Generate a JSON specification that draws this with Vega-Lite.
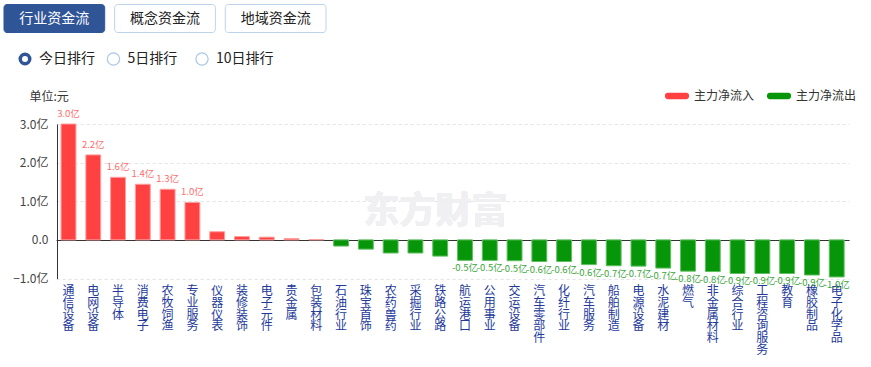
{
  "$schema": "https://vega.github.io/schema/vega-lite/v6.json",
  "width": 871,
  "height": 367,
  "autosize": "none",
  "padding": 0,
  "background": "white",
  "config": {"view": {"stroke": null}, "font": "Noto Sans CJK SC"},
  "layer": [
    {
      "data": {"values": [
        {"name": "通信设备", "value": 3.0, "label": "3.0亿", "dir": "主力净流入"},
        {"name": "电网设备", "value": 2.2, "label": "2.2亿", "dir": "主力净流入"},
        {"name": "半导体", "value": 1.62, "label": "1.6亿", "dir": "主力净流入"},
        {"name": "消费电子", "value": 1.44, "label": "1.4亿", "dir": "主力净流入"},
        {"name": "农牧饲渔", "value": 1.31, "label": "1.3亿", "dir": "主力净流入"},
        {"name": "专业服务", "value": 0.97, "label": "1.0亿", "dir": "主力净流入"},
        {"name": "仪器仪表", "value": 0.21, "label": "", "dir": "主力净流入"},
        {"name": "装修装饰", "value": 0.085, "label": "", "dir": "主力净流入"},
        {"name": "电子元件", "value": 0.07, "label": "", "dir": "主力净流入"},
        {"name": "贵金属", "value": 0.035, "label": "", "dir": "主力净流入"},
        {"name": "包装材料", "value": 0.008, "label": "", "dir": "主力净流入"},
        {"name": "石油行业", "value": -0.16, "label": "", "dir": "主力净流出"},
        {"name": "珠宝首饰", "value": -0.24, "label": "", "dir": "主力净流出"},
        {"name": "农药兽药", "value": -0.34, "label": "", "dir": "主力净流出"},
        {"name": "采掘行业", "value": -0.34, "label": "", "dir": "主力净流出"},
        {"name": "铁路公路", "value": -0.42, "label": "", "dir": "主力净流出"},
        {"name": "航运港口", "value": -0.53, "label": "-0.5亿", "dir": "主力净流出"},
        {"name": "公用事业", "value": -0.53, "label": "-0.5亿", "dir": "主力净流出"},
        {"name": "交运设备", "value": -0.54, "label": "-0.5亿", "dir": "主力净流出"},
        {"name": "汽车零部件", "value": -0.56, "label": "-0.6亿", "dir": "主力净流出"},
        {"name": "化纤行业", "value": -0.56, "label": "-0.6亿", "dir": "主力净流出"},
        {"name": "汽车服务", "value": -0.64, "label": "-0.6亿", "dir": "主力净流出"},
        {"name": "船舶制造", "value": -0.67, "label": "-0.7亿", "dir": "主力净流出"},
        {"name": "电源设备", "value": -0.68, "label": "-0.7亿", "dir": "主力净流出"},
        {"name": "水泥建材", "value": -0.73, "label": "-0.7亿", "dir": "主力净流出"},
        {"name": "燃气", "value": -0.81, "label": "-0.8亿", "dir": "主力净流出"},
        {"name": "非金属材料", "value": -0.82, "label": "-0.8亿", "dir": "主力净流出"},
        {"name": "综合行业", "value": -0.87, "label": "-0.9亿", "dir": "主力净流出"},
        {"name": "工程咨询服务", "value": -0.87, "label": "-0.9亿", "dir": "主力净流出"},
        {"name": "教育", "value": -0.87, "label": "-0.9亿", "dir": "主力净流出"},
        {"name": "橡胶制品", "value": -0.91, "label": "-0.9亿", "dir": "主力净流出"},
        {"name": "电子化学品", "value": -0.96, "label": "-1.0亿", "dir": "主力净流出"}
      ]},
      "encoding": {
        "x": {
          "field": "name", "type": "nominal", "sort": null,
          "scale": {"type": "band", "range": [56.1, 849.1], "paddingInner": 0.4, "paddingOuter": 0.2},
          "axis": {
            "title": null, "orient": "bottom", "offset": -88.5,
            "domain": false, "ticks": false, "tickSize": 0,
            "labelAngle": 0, "labelAlign": "center", "labelBaseline": "top",
            "labelPadding": 7, "labelFontSize": 12, "labelLineHeight": 11.8,
            "labelColor": "#23399a", "labelOverlap": false, "labelLimit": 0,
            "labelFont": "Noto Sans CJK SC",
            "labelExpr": "split(datum.label, '')"
          }
        },
        "y": {
          "field": "value", "type": "quantitative",
          "scale": {"domain": [-1, 3], "range": [278.5, 124], "nice": false},
          "axis": {
            "orient": "left", "offset": -57,
            "values": [-1, 0, 1, 2, 3],
            "title": "单位:元", "titleAngle": 0, "titleX": -28, "titleY": 96,
            "titleAlign": "left", "titleBaseline": "middle", "titleFontSize": 12,
            "titleFontWeight": "normal", "titleColor": "#333", "titleFont": "Noto Sans CJK SC",
            "domain": true, "domainColor": "#333", "domainWidth": 1,
            "ticks": false, "tickSize": 0, "labelPadding": 9,
            "labelFontSize": 12, "labelColor": "#444", "labelFont": "Noto Sans CJK SC",
            "labelExpr": "datum.value === 0 ? '0.0' : format(datum.value, '.1f') + '亿'",
            "grid": true,
            "gridColor": {"condition": {"test": "datum.value === 0", "value": "#333"}, "value": "#e3e3e3"},
            "gridDash": {"condition": {"test": "datum.value === 0", "value": []}, "value": [3, 3]},
            "gridWidth": 1
          }
        }
      },
      "layer": [
        {
          "mark": {"type": "bar", "strokeWidth": 1},
          "encoding": {
            "color": {
              "field": "dir", "type": "nominal",
              "scale": {"domain": ["主力净流入", "主力净流出"], "range": ["#ff4141", "#07950a"]},
              "legend": {
                "orient": "none", "legendX": 665, "legendY": 84, "direction": "horizontal",
                "title": null,
                "symbolType": "M-0.78,-0.27H0.78A0.22,0.22 0 0 1 1,-0.05V0.05A0.22,0.22 0 0 1 0.78,0.27H-0.78A0.22,0.22 0 0 1 -1,0.05V-0.05A0.22,0.22 0 0 1 -0.78,-0.27Z",
                "symbolSize": 576, "symbolStrokeWidth": 0, "symbolOpacity": 1,
                "labelFontSize": 12, "labelColor": "#333", "labelFont": "Noto Sans CJK SC",
                "labelOffset": 5, "columnPadding": 12, "padding": 0
              }
            },
            "stroke": {"condition": {"test": "datum.value > 0", "value": "#ff9d9d"}, "value": "#5fbf5f"}
          }
        },
        {
          "transform": [{"filter": "datum.value > 0 && datum.label != ''"}],
          "mark": {"type": "text", "fontSize": 9.5, "baseline": "middle", "dy": -10, "color": "#ff6b6b"},
          "encoding": {"text": {"field": "label"}}
        },
        {
          "transform": [{"filter": "datum.value < 0 && datum.label != ''"}],
          "mark": {"type": "text", "fontSize": 9.5, "baseline": "middle", "dy": 8, "color": "#3aa63a"},
          "encoding": {"text": {"field": "label"}}
        },
        {
          "mark": {"type": "text", "fontSize": 36, "fontWeight": "bold", "color": "#f0f0f2", "font": "Noto Sans CJK SC", "dx": 20},
          "encoding": {
            "x": {"datum": "采掘行业", "type": "nominal"},
            "y": {"datum": 0.72, "type": "quantitative"},
            "text": {"value": "东方财富"}
          }
        }
      ]
    },
    {
      "data": {"values": [
        {"tab": "行业资金流", "sel": 1},
        {"tab": "概念资金流", "sel": 0},
        {"tab": "地域资金流", "sel": 0}
      ]},
      "encoding": {
        "x": {"field": "tab", "type": "nominal", "sort": null, "axis": null,
              "scale": {"type": "band", "range": [4, 326], "paddingInner": 0.09, "paddingOuter": 0}},
        "y": {"datum": "tabs", "type": "nominal", "axis": null,
              "scale": {"type": "band", "range": [4.5, 32.5], "paddingInner": 0, "paddingOuter": 0}}
      },
      "layer": [
        {
          "mark": {"type": "rect", "cornerRadius": 3, "strokeWidth": 1},
          "encoding": {
            "fill": {"condition": {"test": "datum.sel == 1", "value": "#2f5597"}, "value": "#ffffff"},
            "stroke": {"condition": {"test": "datum.sel == 1", "value": "#2f5597"}, "value": "#bcd3ea"}
          }
        },
        {
          "mark": {"type": "text", "fontSize": 14, "baseline": "middle", "align": "center", "font": "Noto Sans CJK SC"},
          "encoding": {
            "text": {"field": "tab"},
            "color": {"condition": {"test": "datum.sel == 1", "value": "#ffffff"}, "value": "#222222"}
          }
        }
      ]
    },
    {
      "data": {"values": [
        {"r": "今日排行", "sel": 1},
        {"r": "5日排行", "sel": 0},
        {"r": "10日排行", "sel": 0}
      ]},
      "encoding": {
        "x": {"field": "r", "type": "nominal", "sort": null, "axis": null,
              "scale": {"type": "point", "range": [25, 202], "padding": 0}},
        "y": {"datum": "radio", "type": "nominal", "axis": null,
              "scale": {"type": "point", "range": [50, 68], "padding": 0.5}}
      },
      "layer": [
        {
          "mark": {"type": "point", "shape": "circle", "filled": false, "fill": "#ffffff", "opacity": 1},
          "encoding": {
            "size": {"condition": {"test": "datum.sel == 1", "value": 90}, "value": 150},
            "strokeWidth": {"condition": {"test": "datum.sel == 1", "value": 3.5}, "value": 1.2},
            "stroke": {"condition": {"test": "datum.sel == 1", "value": "#2f5597"}, "value": "#a9c6e4"}
          }
        },
        {
          "mark": {"type": "text", "fontSize": 14, "baseline": "middle", "align": "left", "dx": 14, "color": "#222222", "font": "Noto Sans CJK SC"},
          "encoding": {"text": {"field": "r"}}
        }
      ]
    }
  ],
  "resolve": {
    "scale": {"x": "independent", "y": "independent"},
    "axis": {"x": "independent", "y": "independent"}
  }
}
